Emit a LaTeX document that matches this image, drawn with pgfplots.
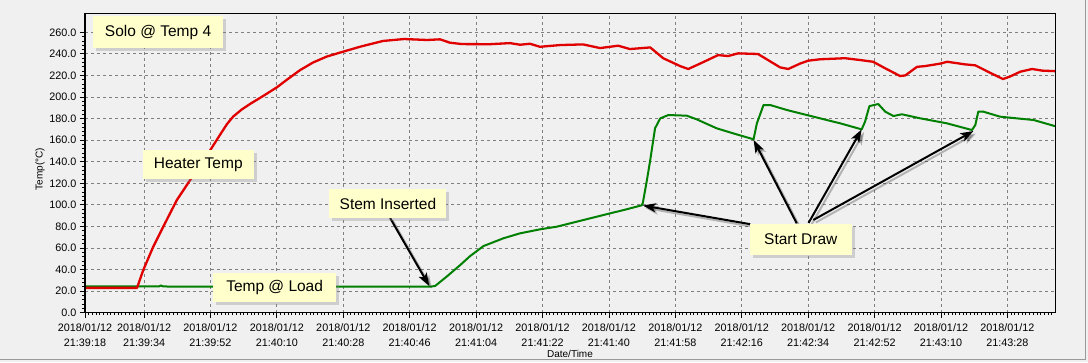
\documentclass[border=0pt]{standalone}
\usepackage{pgfplots}
\pgfplotsset{compat=1.18}
\usepackage{fontspec}
\setmainfont{Liberation Sans}
\usetikzlibrary{arrows.meta,shadows}
\definecolor{bg}{HTML}{F0F0F0}
\definecolor{callout}{HTML}{FFFFCC}
\definecolor{heat}{HTML}{E00000}
\definecolor{load}{HTML}{008000}
\definecolor{gridc}{HTML}{808080}
\tikzset{
  callout/.style={fill=callout, drop shadow={shadow xshift=3pt,shadow yshift=-3pt,opacity=0.3},
    inner sep=0pt, font=\fontsize{15.5}{18}\selectfont, anchor=center, text=black},
  arr/.style={black, line width=2pt, -{Stealth[length=13pt,width=9pt,inset=3pt]}},
  arrsh/.style={black, opacity=0.25, line width=2pt, -{Stealth[length=13pt,width=9pt,inset=3pt]},
    transform canvas={shift={(2.5pt,-2.5pt)}}}
}
\begin{document}
\begin{tikzpicture}
\useasboundingbox (-85pt,-49.3pt) rectangle (1003pt,312.7pt);
\fill[bg] (-85pt,-49.3pt) rectangle (1003pt,312.7pt);
\draw[black!40,line width=1pt] (1000pt,312.7pt) -- (1000pt,-46.8pt) -- (-85pt,-46.8pt);
\begin{axis}[
  at={(0,0)}, anchor=south west,
  scale only axis, width=970pt, height=298.7pt,
  xmin=0, xmax=262.9, ymin=0, ymax=277,
  axis background/.style={fill=bg},
  xtick={0,16,34,52,70,88,106,124,142,160,178,196,214,232,250},
  xticklabels={{2018/01/12\\21:39:18},{2018/01/12\\21:39:34},{2018/01/12\\21:39:52},
    {2018/01/12\\21:40:10},{2018/01/12\\21:40:28},{2018/01/12\\21:40:46},
    {2018/01/12\\21:41:04},{2018/01/12\\21:41:22},{2018/01/12\\21:41:40},
    {2018/01/12\\21:41:58},{2018/01/12\\21:42:16},{2018/01/12\\21:42:34},
    {2018/01/12\\21:42:52},{2018/01/12\\21:43:10},{2018/01/12\\21:43:28}},
  minor xtick={0,1,...,262},
  ytick={0,20,...,260},
  minor y tick num=4,
  grid=major,
  major grid style={gridc, dash pattern=on 3pt off 3pt, line width=0.8pt},
  tick align=outside, tick pos=left,
  major tick length=5pt, minor tick length=2.5pt,
  every tick/.style={black, line width=0.8pt},
  axis line style={black, line width=1pt},
  tick label style={font=\fontsize{10.8}{15}\selectfont},
  xticklabel style={align=center, yshift=-2.5pt},
  yticklabel style={/pgf/number format/.cd,fixed,fixed zerofill,precision=1},
  /pgf/number format/assume math mode=true,
  xlabel={Date/Time}, ylabel={Temp(°C)},
  label style={font=\fontsize{10.3}{12}\selectfont},
  every axis y label/.style={at={(axis description cs:-0.0464,0.481)},rotate=90,anchor=center},
  every axis x label/.style={at={(axis description cs:0.5,0)},yshift=-41.3pt,anchor=center},
]
\addplot[load, line width=2pt, line join=round] coordinates {
(0,24.3) (20,24.3) (20.6,25.3) (21.2,24.3) (93.5,24.1) (94.9,24.8) (98.0,33.4) (101.7,44.2)
(104.4,52.6) (108.0,61.8) (113.4,69) (117.9,73.6) (123.3,77.3) (127.9,79.8) (133.3,84.4)
(140.5,90.6) (146.8,95.9) (150.9,99.6) (151.2,102) (152.3,123) (153.2,141.6) (154.5,171)
(155.9,180.2) (158.1,183.3) (163.1,182.7) (165.8,179.3) (171.2,171) (175.7,166.3) (181.2,160.8)
(182.1,175.6) (183.9,192.6) (185.7,192.6) (190.2,188) (197.4,181.8) (204.7,175.6) (210.5,170)
(211.4,177) (212.6,191.6) (215.0,193.5) (216.9,186.4) (219.1,182.4) (221.4,184) (226.3,180.3)
(233.6,175.6) (240.4,169.4) (241.3,174) (242.1,186.4) (243.5,186.4) (248.0,181.8) (252.6,180.2)
(257.1,178.7) (262.9,173)
};
\addplot[heat, line width=2.3pt, line join=round] coordinates {
(0,23) (14.1,23) (15.8,39.6) (18.5,61.2) (21.2,79.7) (24.9,104.5) (28.5,123) (34.0,151)
(36.6,165) (38.5,175) (40.2,182) (42.5,188.5) (44.7,193.5) (48.3,201) (52.0,209)
(54.7,216) (58.3,225) (61.8,232) (65.5,237.5) (69.9,242) (74.5,246.6) (80.8,252) (86.5,253.8)
(92.7,252.9) (96.2,253.5)
(98.9,250.4) (102.2,249.1) (109.8,249) (115.2,250) (117.9,248.5) (120.6,249.4) (123.3,246.6)
(128.8,248.2) (135.0,248.8) (139.6,245.4) (144.5,247.6) (147.7,244.5) (153.2,246) (156.7,236)
(161.3,228.7) (163.5,226) (166.7,231) (171.6,238.9) (174.3,238) (177.0,240.5) (182.4,239.9)
(188.4,227.5) (190.6,226) (193.8,231) (196.0,233.7) (199.2,235) (206.0,236) (210.1,234.3)
(213.6,232.7) (216.9,226.6) (220.9,219.5) (222.3,220) (225.5,228) (227.7,228.7) (231.8,231)
(233.7,232.7) (238.5,230.3) (241.3,229.4) (245.3,222.5) (248.8,216.7) (250.7,219) (253.5,223.5)
(256.7,226) (259.4,224.5) (262.9,224)
};
% arrows (shadow, then arrow)
\draw[arrsh] (axis cs:82.7,87.8) -- (axis cs:93.3,24.8);
\draw[arr] (axis cs:82.7,87.8) -- (axis cs:93.3,24.8);
\draw[arrsh] (axis cs:180.3,82.1) -- (axis cs:151.2,99.4);
\draw[arr] (axis cs:180.3,82.1) -- (axis cs:151.2,99.4);
\draw[arrsh] (axis cs:192.9,82.9) -- (axis cs:181.2,160.3);
\draw[arr] (axis cs:192.9,82.9) -- (axis cs:181.2,160.3);
\draw[arrsh] (axis cs:196.1,83.2) -- (axis cs:210.5,170);
\draw[arr] (axis cs:196.1,83.2) -- (axis cs:210.5,170);
\draw[arrsh] (axis cs:197.4,86) -- (axis cs:240.8,168.5);
\draw[arr] (axis cs:197.4,86) -- (axis cs:240.8,168.5);
% callouts
\node[callout, minimum width=130pt, minimum height=32pt] at (axis cs:19.8,260.3) {Solo @ Temp 4};
\node[callout, minimum width=111pt, minimum height=29pt] at (axis cs:30.7,137.2) {Heater Temp};
\node[callout, minimum width=117pt, minimum height=29pt] at (axis cs:82.1,101.0) {Stem Inserted};
\node[callout, minimum width=123pt, minimum height=29pt] at (axis cs:51.4,23.8) {Temp @ Load};
\node[callout, minimum width=102pt, minimum height=31pt] at (axis cs:194.0,67.9) {Start Draw};
\end{axis}
\draw[black, line width=2pt] (0,0) -- (0,298.7pt);
\end{tikzpicture}
\end{document}
